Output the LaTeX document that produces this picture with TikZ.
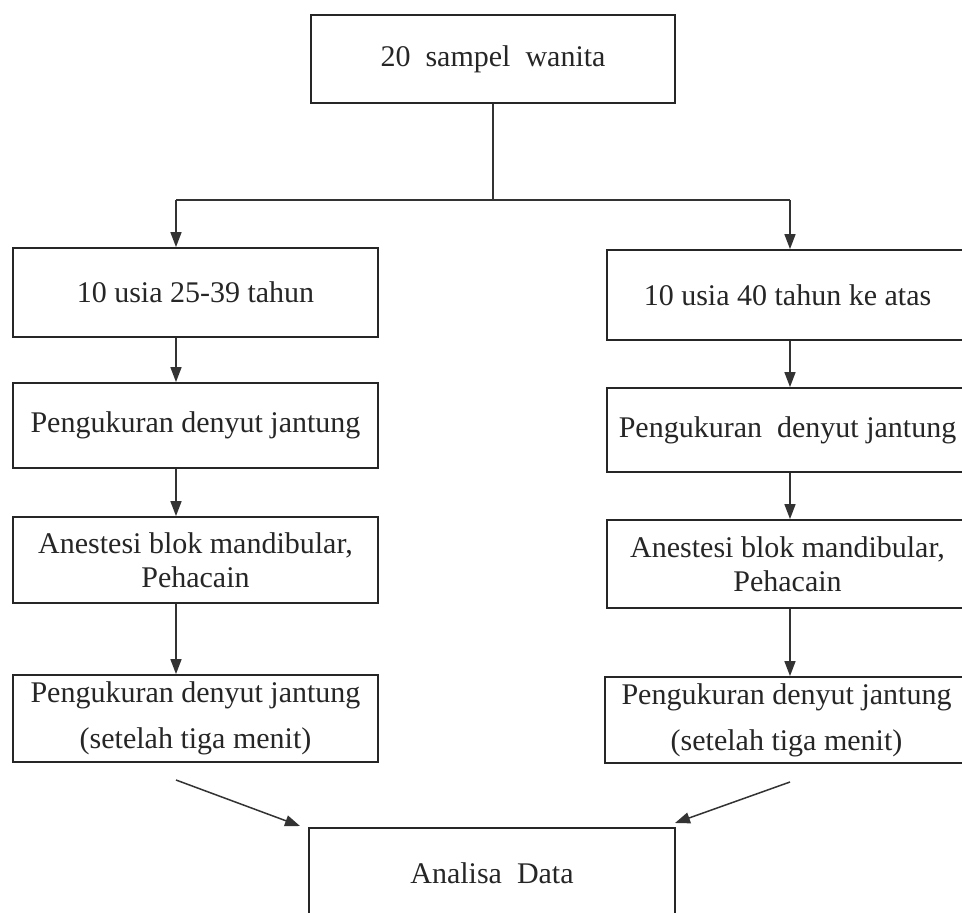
\documentclass[tikz,border=0pt]{standalone}
\usepackage{fontspec}
\setmainfont{Liberation Serif}
\usetikzlibrary{arrows.meta,calc}
\begin{document}
\begin{tikzpicture}[x=1pt,y=-1pt,
  box/.style={draw=black!85,line width=1.8pt,minimum width=#1,inner sep=0pt,align=center,
    font=\fontsize{30}{34}\selectfont,text=black!85},
  box/.default=365pt,
  arr/.style={line width=1.5pt,draw=black!80,-{Triangle[length=15pt,width=11pt]}},
  ln/.style={line width=1.5pt,draw=black!80}]
\useasboundingbox[fill=white] (0,0) rectangle (962,913);
\node[box=364pt,minimum height=88pt] (top) at (493,59) {20\ \ sampel\ \ wanita};
\node[box,minimum height=89pt] (l1) at (195.5,292.5) {10 usia 25-39 tahun};
\node[box=361pt,minimum height=90pt] (r1) at (787.5,295) {10 usia 40 tahun ke atas};
\node[box,minimum height=85pt] (l2) at (195.5,425.5) {Pengukuran denyut jantung};
\node[box=361pt,minimum height=84pt] (r2) at (787.5,430) {Pengukuran\ \ denyut jantung};
\node[box,minimum height=86pt] (l3) at (195.5,560) {Anestesi blok mandibular,\\ Pehacain};
\node[box=361pt,minimum height=88pt] (r3) at (787.5,564) {Anestesi blok mandibular,\\ Pehacain};
\node[box,minimum height=87pt] (l4) at (195.5,718.5) {Pengukuran denyut jantung\\[12pt] (setelah tiga menit)};
\node[box=363pt,minimum height=86pt] (r4) at (786.5,720) {Pengukuran denyut jantung\\[12pt] (setelah tiga menit)};
\node[box=366pt,minimum height=90pt] (an) at (492,873) {Analisa\ \ Data};
\coordinate (j) at (493,200);
\coordinate (jl) at (176,200);
\coordinate (jr) at (790,200);
\coordinate (sl) at (176,780);
\coordinate (sr) at (790,782);
\coordinate (el) at (300,826);
\coordinate (er) at (675,823);
\draw[ln] (top.south) -- (j);
\draw[ln] (jl) -- (jr);
\draw[arr] (jl) -- (jl |- l1.north);
\draw[arr] (jr) -- (jr |- r1.north);
\draw[arr] (jl |- l1.south) -- (jl |- l2.north);
\draw[arr] (jl |- l2.south) -- (jl |- l3.north);
\draw[arr] (jl |- l3.south) -- (jl |- l4.north);
\draw[arr] (jr |- r1.south) -- (jr |- r2.north);
\draw[arr] (jr |- r2.south) -- (jr |- r3.north);
\draw[arr] (jr |- r3.south) -- (jr |- r4.north);
\draw[arr] (sl) -- (el);
\draw[arr] (sr) -- (er);
\end{tikzpicture}
\end{document}
